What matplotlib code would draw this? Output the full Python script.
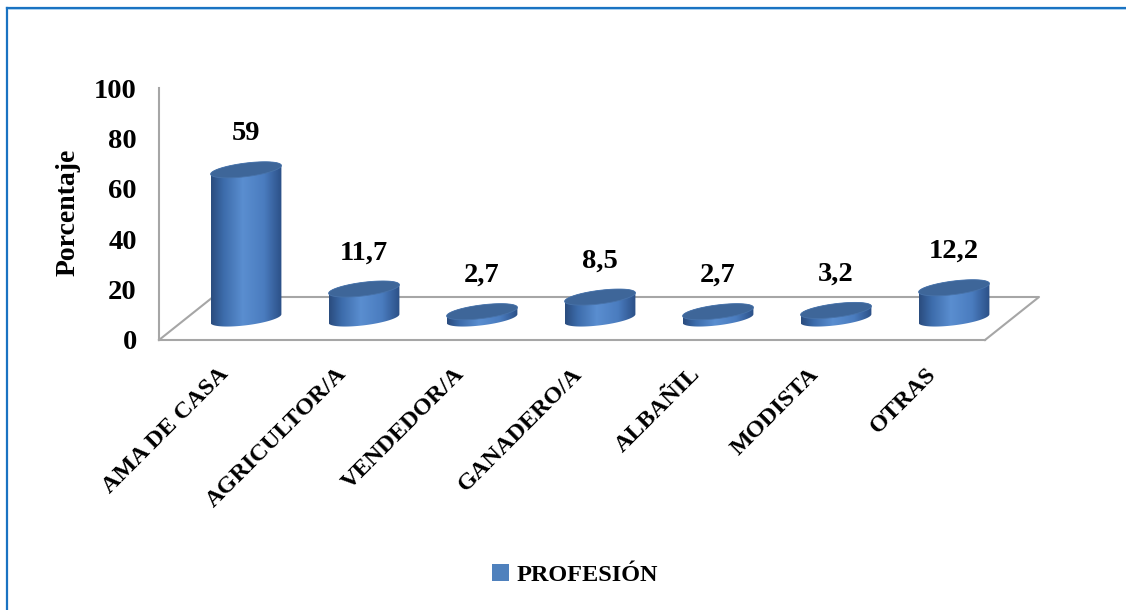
import numpy as np
import matplotlib
matplotlib.use("Agg")
import matplotlib.pyplot as plt
from matplotlib.patches import Polygon, Patch
from matplotlib.colors import LinearSegmentedColormap
from matplotlib.lines import Line2D

# ---- data ----
categories = ["AMA DE CASA", "AGRICULTOR/A", "VENDEDOR/A", "GANADERO/A",
              "ALBAÑIL", "MODISTA", "OTRAS"]
values = [59, 11.7, 2.7, 8.5, 2.7, 3.2, 12.2]
value_labels = ["59", "11,7", "2,7", "8,5", "2,7", "3,2", "12,2"]
y_ticks = [0, 20, 40, 60, 80, 100]
series_name = "PROFESIÓN"
y_title = "Porcentaje"

# ---- styling ----
FONT = "Liberation Serif"
BAR_COLOR = "#4f81bd"
TOP_COLOR = "#3e6699"
FLOOR_COLOR = "#a6a6a6"
FRAME_COLOR = "#1a73c2"
body_cmap = LinearSegmentedColormap.from_list(
    "cyl", [(0.0, "#2a4c7e"), (0.18, "#3d6cab"), (0.45, "#5a8ed0"),
            (0.75, "#4a7cbf"), (1.0, "#2b4f86")])

W, H = 1126, 610
fig = plt.figure(figsize=(W / 100, H / 100), dpi=100)
fig.patch.set_facecolor("white")


def fx(px):
    return px / W


def fy(py):
    return 1 - py / H


# front plane of the 3-D box (pixels)
FRONT_L, FRONT_R = 159, 985
FRONT_BOTTOM, FRONT_TOP = 340, 88
DX, DY = 54, 43            # depth of the floor
PX_PER_UNIT = (FRONT_BOTTOM - FRONT_TOP) / 100.0
n = len(categories)

# axis carrying the value scale and the category labels
ax_front = fig.add_axes([fx(FRONT_L), fy(FRONT_BOTTOM),
                         (FRONT_R - FRONT_L) / W, (FRONT_BOTTOM - FRONT_TOP) / H])
ax_front.set_zorder(0)
ax_front.patch.set_visible(False)
ax_front.set_xlim(-0.5, n - 0.5)
ax_front.set_ylim(0, 100)
for side in ("top", "right"):
    ax_front.spines[side].set_visible(False)
for side in ("left", "bottom"):
    ax_front.spines[side].set_color(FLOOR_COLOR)
    ax_front.spines[side].set_linewidth(1.5)
ax_front.set_yticks(y_ticks)
ax_front.set_yticklabels([str(t) for t in y_ticks], fontfamily=FONT,
                         fontweight="bold", fontsize=20.5)
ax_front.set_xticks(range(n))
ax_front.set_xticklabels(categories, fontfamily=FONT, fontweight="bold",
                         fontsize=17.5, rotation=45, ha="right", va="top",
                         rotation_mode="anchor")
ax_front.tick_params(axis="y", length=0, pad=16)
ax_front.tick_params(axis="x", length=0, pad=17)

# floor outline (back edge and the two side edges)
floor_pts = [
    [(FRONT_L, FRONT_BOTTOM), (FRONT_L + DX, FRONT_BOTTOM - DY),
     (FRONT_R + DX, FRONT_BOTTOM - DY), (FRONT_R, FRONT_BOTTOM)],
]
for pts in floor_pts:
    xs = [fx(p[0]) for p in pts]
    ys = [fy(p[1]) for p in pts]
    ax_front.add_line(Line2D(xs, ys, transform=fig.transFigure, color=FLOOR_COLOR,
                             lw=1.5, clip_on=False))

# axis holding the cylinders, set half a floor depth behind the front plane
Y_MIN = -12
bar_l = FRONT_L + DX / 2 + 1
bar_zero = FRONT_BOTTOM - DY / 2
ax_bars = fig.add_axes([fx(bar_l), fy(bar_zero - Y_MIN * PX_PER_UNIT),
                        (FRONT_R - FRONT_L) / W,
                        (100 - Y_MIN) * PX_PER_UNIT / H])
ax_bars.set_zorder(1)
ax_bars.patch.set_visible(False)
ax_bars.axis("off")

A = 0.30      # cylinder half width (category units)
B = 2.7       # ellipse half height (value units)
S = 1.7       # tilt of the ellipses (value units at the rim)
theta_low = np.linspace(np.pi, 2 * np.pi, 60)
theta_up = np.linspace(0, np.pi, 60)
theta_all = np.linspace(0, 2 * np.pi, 120)

for i, (v, lab) in enumerate(zip(values, value_labels)):
    bx = i + A * np.cos(theta_low)
    by = B * np.sin(theta_low) + S * np.cos(theta_low)
    tx = i + A * np.cos(theta_up)
    ty = v + B * np.sin(theta_up) + S * np.cos(theta_up)
    body = Polygon(np.column_stack([np.r_[bx, tx], np.r_[by, ty]]),
                   closed=True, facecolor="none", edgecolor="none")
    ax_bars.add_patch(body)
    grad = ax_bars.imshow(np.linspace(0, 1, 256)[None, :], cmap=body_cmap,
                          extent=(i - A, i + A, -B - S - 1, v + B + S + 1),
                          aspect="auto", interpolation="bilinear", zorder=2)
    grad.set_clip_path(body)
    top = Polygon(np.column_stack([i + A * np.cos(theta_all),
                                   v + B * np.sin(theta_all) + S * np.cos(theta_all)]),
                  closed=True, facecolor=TOP_COLOR, edgecolor="#4873aa",
                  lw=0.6, zorder=3)
    ax_bars.add_patch(top)
    ax_bars.annotate(lab, (i, v), xytext=(0, 26), textcoords="offset points",
                     ha="center", va="center", fontfamily=FONT,
                     fontweight="bold", fontsize=20.5, zorder=4)

ax_bars.set_xlim(-0.5, n - 0.5)
ax_bars.set_ylim(Y_MIN, 100)

# axis title
fig.text(fx(68), fy(212), y_title, rotation=90, ha="center", va="center",
         fontfamily=FONT, fontweight="bold", fontsize=20)

# legend
fig.legend(handles=[Patch(facecolor=BAR_COLOR, edgecolor="none")],
           labels=[series_name], loc="center",
           bbox_to_anchor=(fx(575), fy(575)), frameon=False,
           handlelength=0.7, handleheight=0.7, handletextpad=0.3,
           prop={"family": FONT, "weight": "bold", "size": 17.5})

# outer frame (top and left edges)
fig.add_artist(Line2D([fx(6.5), fx(6.5)], [fy(7.5), fy(H + 5)],
                      transform=fig.transFigure, color=FRAME_COLOR, lw=1.6))
fig.add_artist(Line2D([fx(6.5), fx(W + 5)], [fy(7.5), fy(7.5)],
                      transform=fig.transFigure, color=FRAME_COLOR, lw=1.6))
fig.add_artist(Line2D([fx(8), fx(W + 5)], [fy(9.3), fy(9.3)],
                      transform=fig.transFigure, color="#a9d0ef", lw=0.7))

fig.savefig("out.png", dpi=100, facecolor="white")
